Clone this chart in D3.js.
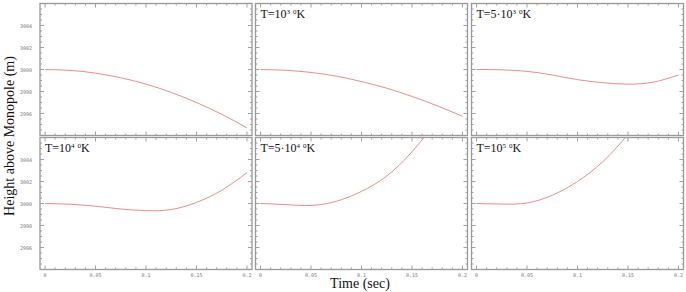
<!DOCTYPE html>
<html>
<head>
<meta charset="utf-8">
<script src="https://cdn.jsdelivr.net/npm/d3@7"></script>
<style>
  body { margin: 0; background: #fff; }
  svg { display: block; }
</style>
</head>
<body>
<script>
// time samples (sec) shared by all panels
const times = [0, 0.025, 0.05, 0.075, 0.1, 0.125, 0.15, 0.175, 0.2];

// height above monopole (m), one series per temperature
const heightsT0   = [3000, 2999.92, 2999.67, 2999.25, 2998.67, 2997.92, 2997.0, 2995.93, 2994.7];
const heightsT1e3 = [3000, 2999.93, 2999.73, 2999.4, 2998.9, 2998.3, 2997.55, 2996.7, 2995.75];
const heightsT5e3 = [3000, 2999.97, 2999.83, 2999.5, 2999.08, 2998.8, 2998.67, 2998.85, 2999.5];
const heightsT1e4 = [3000, 2999.93, 2999.75, 2999.5, 2999.35, 2999.45, 3000.1, 3001.2, 3002.8];
const heightsT5e4 = [3000, 2999.9, 2999.82, 3000.2, 3001.1, 3002.5, 3004.7, 3007.6, 3011];
const heightsT1e5 = [3000, 2999.95, 3000.05, 3000.75, 3002.0, 3003.8, 3006.3, 3009.5, 3013];

// panel labels: [base, exponent], null for unlabelled panel
const labels = [null, ['T=10', '3'], ['T=5\u00b710', '3'], ['T=10', '4'], ['T=5\u00b710', '4'], ['T=10', '5']];
const series = [heightsT0, heightsT1e3, heightsT5e3, heightsT1e4, heightsT5e4, heightsT1e5];

const xTicks = [0, 0.05, 0.1, 0.15, 0.2];
const xTickLabels = ['0', '0.05', '0.1', '0.15', '0.2'];
const yTicks = [2996, 2998, 3000, 3002, 3004];
const yTickLabels = ['2996', '2998', '3000', '3002', '3004'];

const W = 686, H = 292;
const colLeft = [40, 255.5, 471.5];
const rowTop = [3.5, 137.5];
const pw = 212, ph = 132;

const svg = d3.select('body').append('svg')
  .attr('width', W)
  .attr('height', H);

const defs = svg.append('defs');

series.forEach(function (vals, i) {
  const col = i % 3, row = Math.floor(i / 3);
  const x0 = colLeft[col], y0 = rowTop[row];

  const x = d3.scaleLinear().domain([-0.005, 0.205]).range([x0, x0 + pw]);
  const y = d3.scaleLinear().domain([2994, 3006]).range([y0 + ph, y0]);

  const g = svg.append('g').attr('class', 'panel');

  defs.append('clipPath').attr('id', 'clip' + i)
    .append('rect')
    .attr('x', x0).attr('y', y0).attr('width', pw).attr('height', ph);

  // minor and major ticks on all four edges, pointing inwards
  const xMinor = d3.range(0, 0.2001, 0.01);
  const yMinor = d3.range(2994, 3006.001, 0.5);
  const tk = g.append('g').attr('stroke', '#888').attr('stroke-width', 0.8);

  xMinor.forEach(function (t) {
    const major = Math.abs(Math.round(t * 20) - t * 20) < 1e-6;
    const len = major ? 4 : 2;
    tk.append('line').attr('x1', x(t)).attr('x2', x(t)).attr('y1', y0 + ph).attr('y2', y0 + ph - len);
    tk.append('line').attr('x1', x(t)).attr('x2', x(t)).attr('y1', y0).attr('y2', y0 + len);
  });
  yMinor.forEach(function (v) {
    const major = Math.abs(v % 2) < 1e-6;
    const len = major ? 4 : 2;
    tk.append('line').attr('x1', x0).attr('x2', x0 + len).attr('y1', y(v)).attr('y2', y(v));
    tk.append('line').attr('x1', x0 + pw).attr('x2', x0 + pw - len).attr('y1', y(v)).attr('y2', y(v));
  });

  g.append('rect')
    .attr('x', x0).attr('y', y0)
    .attr('width', pw).attr('height', ph)
    .attr('fill', 'none')
    .attr('stroke', '#999')
    .attr('stroke-width', 1.3);

  if (col === 0) {
    g.selectAll('.ylab')
      .data(yTicks)
      .enter()
      .append('text')
      .attr('x', x0 - 8)
      .attr('y', function (d) { return y(d) + 2; })
      .attr('text-anchor', 'end')
      .style('font-family', 'DejaVu Sans Mono, monospace')
      .style('font-size', '5px')
      .style('fill', '#777')
      .text(function (d, j) { return yTickLabels[j]; });
  }
  if (row === 1) {
    g.selectAll('.xlab')
      .data(xTicks)
      .enter()
      .append('text')
      .attr('x', function (d) { return x(d); })
      .attr('y', y0 + ph + 7)
      .attr('text-anchor', 'middle')
      .style('font-family', 'DejaVu Sans Mono, monospace')
      .style('font-size', '5px')
      .style('fill', '#777')
      .text(function (d, j) { return xTickLabels[j]; });
  }

  const line = d3.line()
    .x(function (d) { return x(d[0]); })
    .y(function (d) { return y(d[1]); })
    .curve(d3.curveNatural);

  g.append('path')
    .datum(times.map(function (t, j) { return [t, vals[j]]; }))
    .attr('clip-path', 'url(#clip' + i + ')')
    .attr('fill', 'none')
    .attr('stroke', '#f08a8a')
    .attr('stroke-width', 1)
    .attr('d', line);

  const lab = labels[i];
  if (lab) {
    const t = g.append('text')
      .attr('x', x0 + 5)
      .attr('y', y0 + 14)
      .style('font-family', 'Liberation Serif, serif')
      .style('font-size', '12px')
      .style('fill', '#111');
    t.append('tspan').text(lab[0]);
    t.append('tspan').attr('dy', -4).style('font-size', '7px').text(lab[1]);
    t.append('tspan').attr('dx', 3).style('font-size', '7px').text('0');
    t.append('tspan').attr('dy', 4).text('K');
  }
});

svg.append('text')
  .attr('x', 360)
  .attr('y', 288)
  .attr('text-anchor', 'middle')
  .style('font-family', 'Liberation Serif, serif')
  .style('font-size', '14px')
  .style('fill', '#111')
  .text('Time (sec)');

svg.append('text')
  .attr('transform', 'translate(14,136) rotate(-90)')
  .attr('text-anchor', 'middle')
  .style('font-family', 'Liberation Serif, serif')
  .style('font-size', '14px')
  .style('fill', '#111')
  .text('Height above Monopole (m)');
</script>
</body>
</html>
